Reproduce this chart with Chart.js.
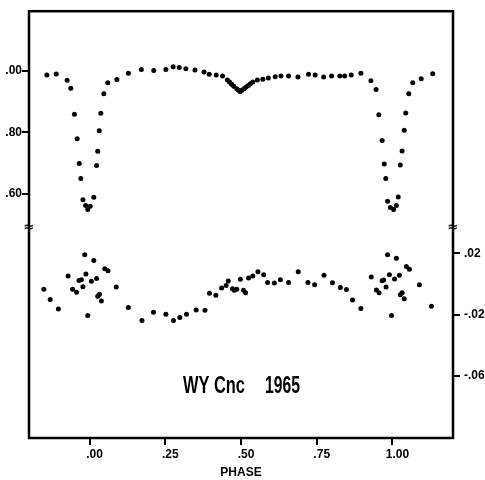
<!DOCTYPE html>
<html>
<head>
<meta charset="utf-8">
<script src="https://cdn.jsdelivr.net/npm/chart.js@4"></script>
<style>
html, body { margin: 0; padding: 0; background: #fff; }
canvas { display: block; }
</style>
</head>
<body>
<canvas id="chart" width="485" height="480"></canvas>
<script>
// light curve: phase and relative intensity (left axis)
const lightPhase = [
  -0.141, -0.110, -0.074, -0.062, -0.050, -0.041, -0.034, -0.029, -0.022, -0.013,
  -0.006, 0.002, 0.014, 0.023, 0.027, 0.032, 0.037, 0.047, 0.060, 0.090,
  0.128, 0.171, 0.212, 0.252, 0.276, 0.296, 0.318, 0.348, 0.378, 0.395,
  0.418, 0.439, 0.455, 0.462, 0.469, 0.476, 0.486, 0.492, 0.497, 0.503,
  0.510, 0.517, 0.524, 0.531, 0.539, 0.554, 0.572, 0.590, 0.613, 0.632,
  0.657, 0.688, 0.723, 0.745, 0.773, 0.799, 0.826, 0.842, 0.864, 0.896,
  0.929, 0.946, 0.955, 0.966, 0.973, 0.978, 0.984, 0.993, 1.004, 1.013,
  1.019, 1.026, 1.032, 1.039, 1.044, 1.054, 1.067, 1.095, 1.133
];
const lightFlux = [
  0.987, 0.990, 0.970, 0.944, 0.859, 0.779, 0.698, 0.649, 0.580, 0.561,
  0.548, 0.559, 0.588, 0.692, 0.738, 0.805, 0.862, 0.926, 0.962, 0.972,
  0.993, 1.005, 1.002, 1.005, 1.014, 1.011, 1.007, 1.003, 0.997, 0.989,
  0.987, 0.984, 0.971, 0.964, 0.957, 0.950, 0.942, 0.937, 0.933, 0.937,
  0.942, 0.948, 0.953, 0.958, 0.964, 0.971, 0.973, 0.977, 0.981, 0.984,
  0.984, 0.980, 0.989, 0.987, 0.980, 0.984, 0.984, 0.984, 0.987, 0.993,
  0.968, 0.940, 0.857, 0.773, 0.697, 0.649, 0.575, 0.555, 0.548, 0.561,
  0.589, 0.693, 0.739, 0.807, 0.863, 0.926, 0.962, 0.975, 0.991
];

// residuals (right axis)
const residPhase = [
  -0.151, -0.130, -0.103, -0.071, -0.056, -0.043, -0.035, -0.027, -0.022, -0.016,
  -0.012, -0.006, 0.006, 0.014, 0.023, 0.027, 0.033, 0.039, 0.050, 0.061,
  0.088, 0.128, 0.173, 0.211, 0.252, 0.277, 0.298, 0.320, 0.352, 0.381,
  0.396, 0.417, 0.436, 0.451, 0.458, 0.472, 0.478, 0.486, 0.498, 0.508,
  0.515, 0.525, 0.539, 0.556, 0.575, 0.588, 0.610, 0.630, 0.657, 0.689,
  0.721, 0.743, 0.774, 0.802, 0.828, 0.848, 0.868, 0.896, 0.930, 0.947,
  0.956, 0.966, 0.971, 0.979, 0.984, 0.990, 0.997, 1.007, 1.013, 1.023,
  1.026, 1.032, 1.039, 1.046, 1.056, 1.089, 1.129
];
const residValue = [
  -0.0034, -0.0101, -0.0162, 0.0052, -0.0034, -0.0054, 0.0024, 0.0029, -0.0017, 0.0192,
  0.0065, -0.0205, 0.0018, 0.0154, 0.0037, -0.0080, -0.0067, -0.0110, 0.0100, 0.0087,
  -0.0019, -0.0153, -0.0238, -0.0184, -0.0197, -0.0238, -0.0218, -0.0197, -0.0169, -0.0171,
  -0.0060, -0.0073, -0.0026, -0.0010, 0.0020, -0.0030, -0.0041, -0.0034, 0.0031, -0.0041,
  -0.0056, 0.0039, 0.0052, 0.0081, 0.0061, 0.0011, 0.0007, 0.0029, 0.0011, 0.0081,
  0.0011, -0.0004, 0.0057, 0.0009, -0.0023, -0.0036, -0.0104, -0.0160, 0.0046, -0.0039,
  -0.0056, 0.0022, 0.0026, -0.0019, 0.0192, 0.0061, -0.0205, 0.0033, 0.0169, 0.0057,
  -0.0069, -0.0056, -0.0095, 0.0115, 0.0096, -0.0004, -0.0145
];

// ticks and labels as printed
const phaseTicks = [0, 0.25, 0.5, 0.75, 1.0];
const phaseLabels = ['.00', '.25', '.50', '.75', '1.00'];
const fluxTicks = [0.6, 0.8, 1.0];
const fluxLabels = ['.60', '.80', '.00'];
const residTicks = [0.02, -0.02, -0.06];
const residLabels = ['.02', '-.02', '-.06'];
const fluxBreak = 0.49;
const starName = 'WY Cnc';
const yearLabel = '1965';

const tickFont = { family: '"Liberation Sans", Arial, sans-serif', size: 12, weight: 'bold' };

function setTicks(values) {
  return function(scale) {
    scale.ticks = values.map(v => ({ value: v }));
  };
}

function labelFor(values, labels) {
  return function(value) {
    const i = values.findIndex(v => Math.abs(v - value) < 1e-9);
    return i >= 0 ? labels[i] : '';
  };
}

// frame, axis break marks and the star label
const framePlugin = {
  id: 'frame',
  afterDraw(chart) {
    const { ctx, chartArea: a } = chart;
    ctx.save();
    ctx.strokeStyle = '#000';
    ctx.lineWidth = 2.5;
    ctx.strokeRect(a.left, a.top, a.right - a.left, a.bottom - a.top);

    const yb = chart.scales.y.getPixelForValue(fluxBreak);
    ctx.fillStyle = '#000';
    ctx.font = 'bold 13px "DejaVu Sans", sans-serif';
    ctx.textAlign = 'center';
    ctx.textBaseline = 'middle';
    ctx.fillText('\u2248', a.left, yb);
    ctx.fillText('\u2248', a.right, yb);

    ctx.font = 'bold 24px "Liberation Sans", Arial, sans-serif';
    ctx.textAlign = 'left';
    ctx.textBaseline = 'alphabetic';
    const drawSqueezed = (text, x, y, w) => {
      const sx = w / ctx.measureText(text).width;
      ctx.save();
      ctx.translate(x, y);
      ctx.scale(sx, 1);
      ctx.fillText(text, 0, 0);
      ctx.restore();
    };
    drawSqueezed(starName, 183, 393, 62);
    drawSqueezed(yearLabel, 265, 393, 35);
    ctx.restore();
  }
};

new Chart(document.getElementById('chart'), {
  type: 'scatter',
  data: {
    datasets: [
      {
        label: 'light',
        data: lightPhase.map((p, i) => ({ x: p, y: lightFlux[i] })),
        yAxisID: 'y',
        pointRadius: 2.5,
        pointBackgroundColor: '#000',
        pointBorderWidth: 0
      },
      {
        label: 'residuals',
        data: residPhase.map((p, i) => ({ x: p, y: residValue[i] })),
        yAxisID: 'y2',
        pointRadius: 2.5,
        pointBackgroundColor: '#000',
        pointBorderWidth: 0
      }
    ]
  },
  options: {
    responsive: false,
    animation: false,
    layout: { padding: { top: 10, left: 0, right: 0, bottom: 0 } },
    plugins: {
      legend: { display: false },
      tooltip: { enabled: false }
    },
    scales: {
      x: {
        type: 'linear',
        min: -0.2,
        max: 1.2,
        afterBuildTicks: setTicks(phaseTicks),
        afterFit(scale) { scale.height = 42; },
        border: { display: false },
        grid: { drawOnChartArea: false, drawTicks: true, tickLength: 7, lineWidth: 2, color: '#000' },
        ticks: {
          color: '#000',
          font: tickFont,
          padding: 2,
          labelOffset: 5,
          maxRotation: 0,
          callback: labelFor(phaseTicks, phaseLabels)
        },
        title: {
          display: true,
          text: 'PHASE',
          color: '#000',
          font: { family: '"Liberation Sans", Arial, sans-serif', size: 12, weight: 'bold' },
          padding: 0
        }
      },
      y: {
        position: 'left',
        min: -0.197,
        max: 1.195,
        afterBuildTicks: setTicks(fluxTicks),
        afterFit(scale) { scale.width = 29; },
        border: { display: false },
        grid: { drawOnChartArea: false, drawTicks: true, tickLength: 7, lineWidth: 2, color: '#000' },
        ticks: {
          color: '#000',
          font: tickFont,
          padding: 0,
          callback: labelFor(fluxTicks, fluxLabels)
        }
      },
      y2: {
        position: 'right',
        min: -0.1004,
        max: 0.178,
        afterBuildTicks: setTicks(residTicks),
        afterFit(scale) { scale.width = 32; },
        border: { display: false },
        grid: { drawOnChartArea: false, drawTicks: true, tickLength: 7, lineWidth: 2, color: '#000' },
        ticks: {
          color: '#000',
          font: tickFont,
          padding: 4,
          callback: labelFor(residTicks, residLabels)
        }
      }
    }
  },
  plugins: [framePlugin]
});
</script>
</body>
</html>
